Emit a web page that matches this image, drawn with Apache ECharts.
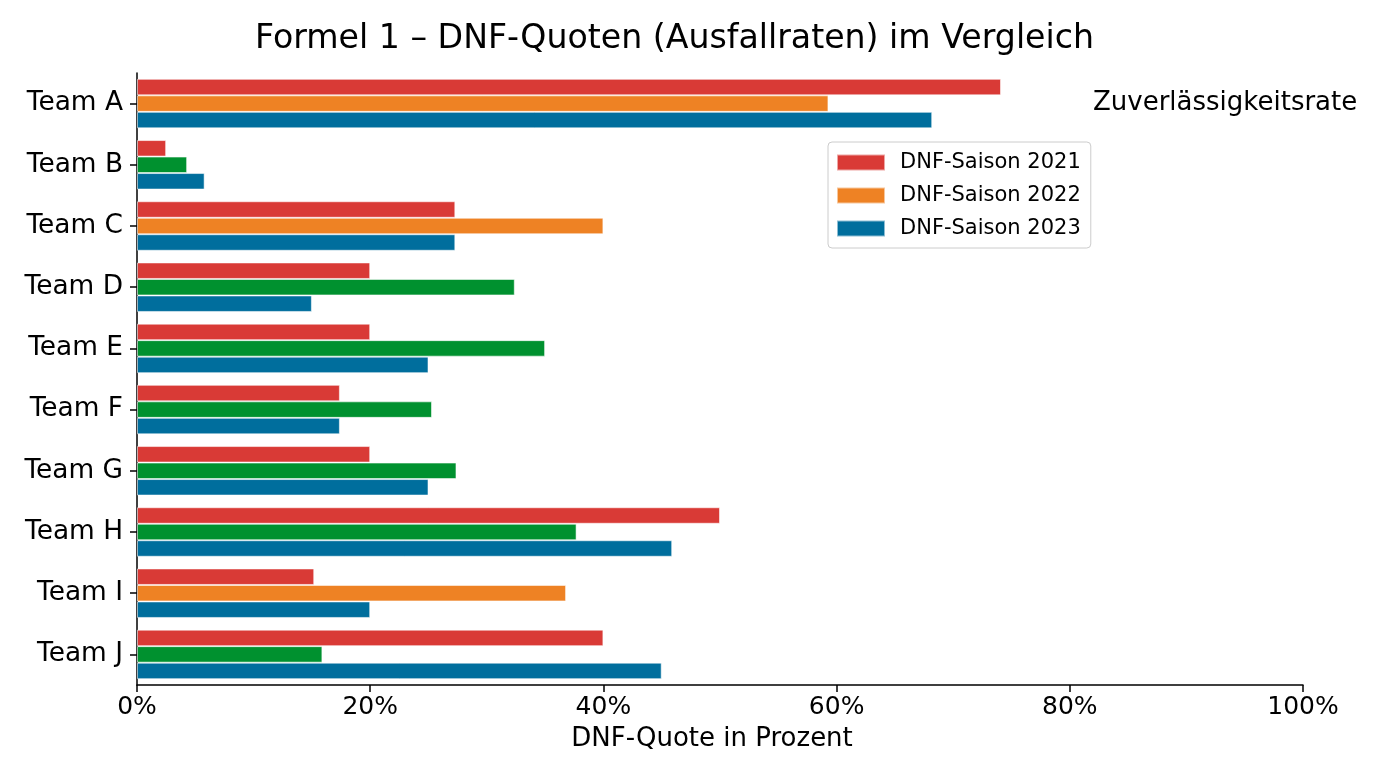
<!DOCTYPE html>
<html>
<head>
<meta charset="utf-8">
<script src="https://cdn.jsdelivr.net/npm/echarts@6/dist/echarts.min.js"></script>
<style>
  html, body { margin: 0; padding: 0; background: #ffffff; }
  #chart { width: 1376px; height: 768px; }
</style>
</head>
<body>
<div id="chart"></div>
<script>
// ---- data ----
const categories = ['Team A', 'Team B', 'Team C', 'Team D', 'Team E', 'Team F', 'Team G', 'Team H', 'Team I', 'Team J'];
const seriesNames = ['DNF-Saison 2021', 'DNF-Saison 2022', 'DNF-Saison 2023'];
const dnf2021 = [74.1, 2.5, 27.3, 20, 20, 17.4, 20, 50, 15.2, 40];
const dnf2022 = [59.3, 4.3, 40, 32.4, 35, 25.3, 27.4, 37.7, 36.8, 15.9];
const dnf2023 = [68.2, 5.8, 27.3, 15, 25, 17.4, 25, 45.9, 20, 45];
const xTicks = [0, 20, 40, 60, 80, 100];

// ---- styling ----
const RED = '#d93a36';
const ORANGE = '#ee8224';
const GREEN = '#00912f';
const BLUE = '#006e9d';
const orangeTeams2022 = ['Team A', 'Team C', 'Team I'];
const FONT = 'DejaVu Sans';

const chart = echarts.init(document.getElementById('chart'), null, { renderer: 'canvas' });

const barBorder = { borderColor: 'rgba(255,255,255,0.55)', borderWidth: 1 };

const option = {
  backgroundColor: '#ffffff',
  animation: false,
  textStyle: { fontFamily: FONT, color: '#000' },
  title: {
    text: 'Formel 1 – DNF-Quoten (Ausfallraten) im Vergleich',
    left: 255,
    top: 23,
    padding: 0,
    textStyle: { fontFamily: FONT, fontSize: 33.2, fontWeight: 'normal', color: '#000' }
  },
  legend: {
    data: seriesNames,
    orient: 'vertical',
    left: 828,
    top: 142,
    padding: [10, 10, 9, 8],
    itemWidth: 48,
    itemHeight: 16,
    itemGap: 12,
    icon: 'rect',
    borderColor: '#cccccc',
    borderWidth: 1,
    borderRadius: 4,
    backgroundColor: 'rgba(255,255,255,0.8)',
    textStyle: { fontFamily: FONT, fontSize: 21, color: '#000', padding: [0, 0, 0, 10] }
  },
  graphic: [{
    type: 'text',
    left: 1093,
    top: 90,
    style: { text: 'Zuverlässigkeitsrate', font: '26px "DejaVu Sans"', fill: '#000' }
  }],
  grid: { left: 137, right: 73, top: 73, height: 612, containLabel: false },
  xAxis: {
    type: 'value',
    min: 0,
    max: 100,
    interval: 20,
    name: 'DNF-Quote in Prozent',
    nameLocation: 'middle',
    nameGap: 41,
    nameTextStyle: { fontFamily: FONT, fontSize: 26, color: '#000', padding: [0, 16, 0, 0] },
    axisLine: { show: true, lineStyle: { color: '#000', width: 1.5 } },
    axisTick: { show: true, length: 7, lineStyle: { color: '#000', width: 1.5 } },
    axisLabel: {
      fontFamily: FONT, fontSize: 25, color: '#000', margin: 10,
      formatter: function (v) { return xTicks.indexOf(v) >= 0 ? v + '%' : ''; }
    },
    splitLine: { show: false }
  },
  yAxis: {
    type: 'category',
    data: categories,
    inverse: true,
    axisLine: { show: true, lineStyle: { color: '#000', width: 1.5 } },
    axisTick: { show: true, alignWithLabel: true, length: 7, lineStyle: { color: '#000', width: 1.5 } },
    axisLabel: { fontFamily: FONT, fontSize: 26.4, color: '#000', margin: 14 },
    splitLine: { show: false }
  },
  series: [
    {
      name: seriesNames[0],
      type: 'bar',
      data: dnf2021,
      barWidth: 16.5,
      barGap: '0%',
      itemStyle: Object.assign({ color: RED }, barBorder)
    },
    {
      name: seriesNames[1],
      type: 'bar',
      data: dnf2022.map(function (v, i) {
        return { value: v, itemStyle: { color: orangeTeams2022.indexOf(categories[i]) >= 0 ? ORANGE : GREEN } };
      }),
      barWidth: 16.5,
      barGap: '0%',
      itemStyle: Object.assign({ color: ORANGE }, barBorder)
    },
    {
      name: seriesNames[2],
      type: 'bar',
      data: dnf2023,
      barWidth: 16.5,
      barGap: '0%',
      itemStyle: Object.assign({ color: BLUE }, barBorder)
    }
  ]
};

chart.setOption(option);
</script>
</body>
</html>
